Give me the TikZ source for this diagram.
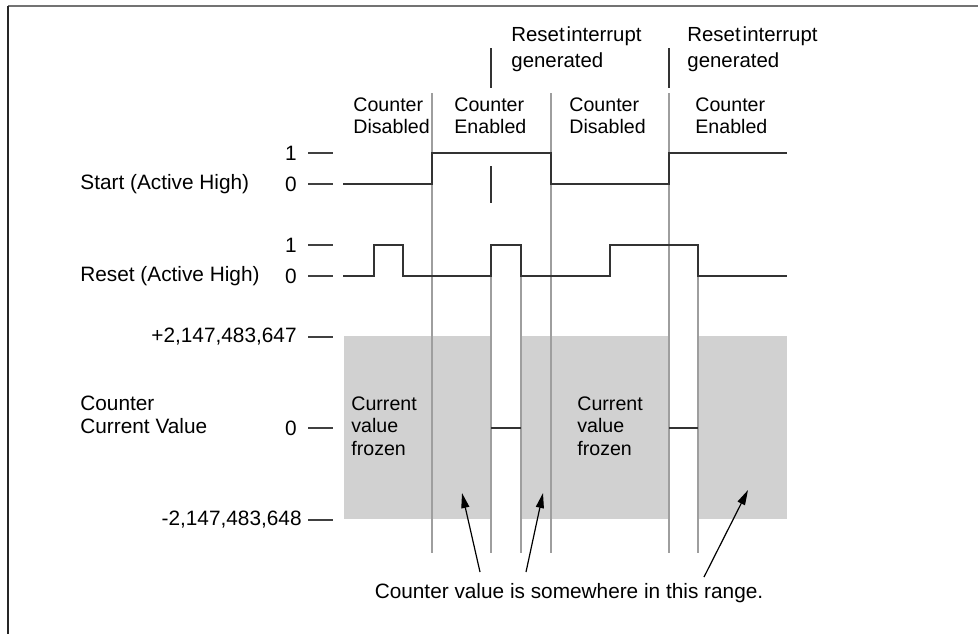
\documentclass[tikz,border=0pt]{standalone}
\usepackage{fontspec}
\setmainfont{Liberation Sans}
\usetikzlibrary{positioning, arrows.meta}

\tikzset{
  sig/.style={draw=black!80, line width=0.75pt},
  ticky/.style={draw=black!75, line width=0.7pt},
  guide/.style={draw=black!38, line width=0.6pt},
  band/.style={fill=black!18},
  lbl/.style={align=left, anchor=west, inner sep=0pt},
  val/.style={anchor=east, inner sep=0pt},
  colsmall/.style={lbl, font=\fontsize{9.8}{11.2}\selectfont},
  irq/.style={lbl, font=\fontsize{10.2}{12.8}\selectfont},
  arr/.style={-{Triangle[length=7.5pt, width=4pt]}, line width=0.6pt}
}

\begin{document}
\begin{tikzpicture}[x=0.5pt, y=-0.5pt, font=\fontsize{10.4}{11.6}\selectfont]
  \useasboundingbox (0,0) rectangle (978,634);
  \draw [black!55, line width=1.3pt] (8,6) -- (978,6);
  \draw [black!85, line width=1.2pt] (8,6) -- (8,634);

  \fill [band] (344,336) rectangle (491,519);
  \fill [band] (521,336) rectangle (669,519);
  \fill [band] (698,336) rectangle (787,519);

  \foreach \x in {432, 551, 669}
    \draw [guide] (\x,93) -- (\x,553);
  \foreach \x in {491, 521, 698}
    \draw [guide] (\x,245) -- (\x,553);

  \foreach \y in {153, 184, 245, 276, 337, 428, 520}
    \draw [ticky] (308,\y) -- (333,\y);

  \draw [sig] (343,184) -- (432,184) -- (432,153) -- (551,153) -- (551,184)
    -- (669,184) -- (669,153) -- (787,153);
  \draw [sig] (343,276) -- (374,276) |- (403,245) |- (491,276) |- (521,245)
    |- (610,276) |- (698,245) |- (787,276);
  \draw [sig] (491,428) -- (521,428);
  \draw [sig] (669,428) -- (698,428);

  \draw [sig, line width=1pt] (491,166) -- (491,203);
  \draw [sig, line width=1pt] (491,48) -- (491,88);
  \draw [sig, line width=1pt] (669,48) -- (669,88);

  \node [irq] (ri1) at (511,49) {Reset\hspace{0.1em}interrupt\\generated};
  \node [irq] (ri2) at (687,49) {Reset\hspace{0.1em}interrupt\\generated};

  \node [colsmall] (dis1) at (353,116) {Counter\\Disabled};
  \node [colsmall] (en1) at (454,116) {Counter\\Enabled};
  \node [colsmall] (dis2) at (569,116) {Counter\\Disabled};
  \node [colsmall] (en2) at (695,116) {Counter\\Enabled};

  \node [lbl] (start) at (80,184) {Start (Active High)};
  \node [lbl] (reset) at (80,276) {Reset (Active High)};
  \node [lbl] (cnt) at (80,415) {Counter\\Current Value};

  \node [val] (s1) at (297,153) {1};
  \node [val] (s0) at (297,184) {0};
  \node [val] (r1) at (297,245) {1};
  \node [val] (r0) at (297,276) {0};
  \node [val] (vmax) at (297,337) {+2,147,483,647};
  \node [val] (vzero) at (297,428) {0};
  \node [val] (vmin) at (302,520) {-2,147,483,648};

  \node [colsmall] (frz1) at (351,426) {Current\\value\\frozen};
  \node [colsmall] (frz2) at (577,426) {Current\\value\\frozen};

  \node (note) at (569,593) {Counter value is somewhere in this range.};

  \coordinate (t1) at (462,493);
  \coordinate (t2) at (543,493);
  \coordinate (t3) at (748,490);
  \coordinate (a1) at (480,572);
  \coordinate (a2) at (526,572);
  \coordinate (a3) at (704,577);
  \draw [arr] (a1) -- (t1);
  \draw [arr] (a2) -- (t2);
  \draw [arr] (a3) -- (t3);
\end{tikzpicture}
\end{document}
